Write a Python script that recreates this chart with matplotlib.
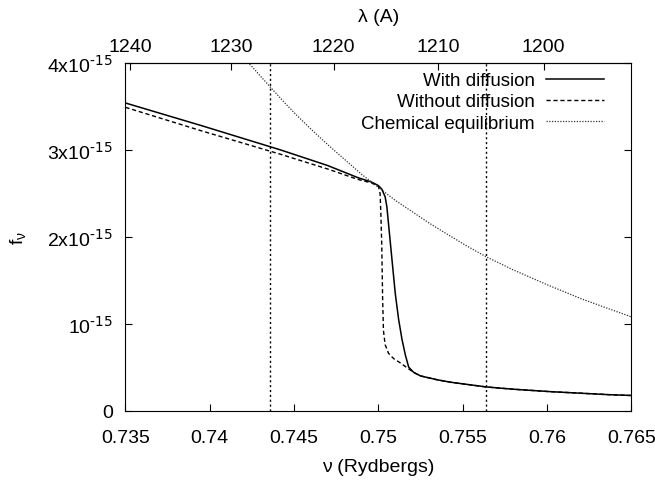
import numpy as np
import matplotlib
matplotlib.use('Agg')
import matplotlib.pyplot as plt

plt.rcParams['font.family'] = ['Liberation Sans', 'DejaVu Sans']
plt.rcParams['mathtext.default'] = 'regular'
plt.rcParams['font.size'] = 13.5

# spectrum with diffusion (units of 1e-15)
nu_with = [0.7350, 0.7395, 0.7442, 0.7470, 0.7488, 0.7496, 0.7500, 0.7502, 0.7504,
           0.7505, 0.7506, 0.7508, 0.7510, 0.7512, 0.7514, 0.7516, 0.7518, 0.7521,
           0.7525, 0.7535, 0.7543, 0.7564, 0.7580, 0.7602, 0.7637, 0.7650]
f_with = [3.54, 3.28, 3.00, 2.82, 2.68, 2.63, 2.59, 2.55, 2.46,
          2.35, 2.15, 1.75, 1.35, 1.05, 0.82, 0.64, 0.50, 0.44,
          0.40, 0.355, 0.327, 0.273, 0.247, 0.219, 0.184, 0.175]

# without diffusion
nu_without = [0.7350, 0.7395, 0.7442, 0.7470, 0.7488, 0.7496, 0.7500, 0.7501, 0.75015,
              0.7502, 0.75025, 0.7503, 0.7504, 0.7506, 0.7509, 0.7513, 0.7518, 0.7521,
              0.7525, 0.7535, 0.7543, 0.7564, 0.7580, 0.7602, 0.7637, 0.7650]
f_without = [3.49, 3.22, 2.95, 2.78, 2.66, 2.62, 2.58, 2.50, 2.25,
             1.90, 1.30, 0.92, 0.76, 0.66, 0.60, 0.55, 0.48, 0.44,
             0.40, 0.355, 0.327, 0.273, 0.247, 0.219, 0.184, 0.175]

# chemical equilibrium
nu_eq = [0.7420, 0.7425, 0.7430, 0.7437, 0.7445, 0.7452, 0.7460, 0.7470, 0.7480,
         0.7490, 0.7500, 0.7510, 0.7520, 0.7530, 0.7540, 0.7552, 0.7564, 0.7580,
         0.7600, 0.7620, 0.7637, 0.7650]
f_eq = [4.05, 3.96, 3.85, 3.70, 3.53, 3.39, 3.24, 3.06, 2.89,
        2.72, 2.57, 2.42, 2.29, 2.16, 2.04, 1.90, 1.77, 1.62,
        1.45, 1.29, 1.17, 1.08]

# vertical markers
v_lines = [0.7436, 0.7564]

y_ticks = [0, 1e-15, 2e-15, 3e-15, 4e-15]
y_ticklabels = ['0', r'10$^{\text{-15}}$', r'2x10$^{\text{-15}}$',
                r'3x10$^{\text{-15}}$', r'4x10$^{\text{-15}}$']
lam_ticks = [1240, 1230, 1220, 1210, 1200]
K = 911.76  # lambda(A) = K / nu(Ry)

scale = 1e-15
fig = plt.figure(figsize=(6.55, 4.81), dpi=100)
ax = fig.add_axes([0.1916, 0.1441, 0.7722, 0.7228])

ax.plot(nu_with, np.array(f_with) * scale, color='black', lw=1.1, label='With diffusion')
ax.plot(nu_without, np.array(f_without) * scale, color='black', lw=1.0,
        linestyle=(0, (3, 2)), label='Without diffusion')
ax.plot(nu_eq, np.array(f_eq) * scale, color='#333333', lw=0.9,
        linestyle=(0, (1, 1.2)), label='Chemical equilibrium')
for v in v_lines:
    ax.axvline(v, color='black', lw=1.0, linestyle=(0, (1.5, 2)))

ax.set_xlim(0.735, 0.765)
ax.set_ylim(0, 4e-15)
ax.set_xticks([0.735, 0.74, 0.745, 0.75, 0.755, 0.76, 0.765])
ax.set_xticklabels(['0.735', '0.74', '0.745', '0.75', '0.755', '0.76', '0.765'])
ax.set_yticks(y_ticks)
ax.set_yticklabels(y_ticklabels)
ax.tick_params(direction='in', length=5, width=0.8, top=False, right=True,
               labelsize=14)
ax.tick_params(axis='x', pad=13)
ax.tick_params(axis='y', pad=9)
ax.set_xlabel('ν (Rydbergs)', labelpad=9, fontsize=14)
ax.set_ylabel('f$_ν$', labelpad=14, fontsize=14)

# top axis in wavelength
sec = ax.secondary_xaxis('top', functions=(lambda x: K / x, lambda x: K / x))
sec.set_xticks(lam_ticks)
sec.set_xticklabels([str(t) for t in lam_ticks])
sec.tick_params(direction='in', length=5, width=0.8, pad=6, labelsize=14)
sec.set_xlabel('λ (A)', labelpad=12, fontsize=14)

ax.legend(loc='upper right', bbox_to_anchor=(0.972, 1.012), frameon=False,
          markerfirst=False, handlelength=3.1, handletextpad=0.6,
          labelspacing=0.22, borderaxespad=0.3)

plt.savefig('out.png', dpi=100)
